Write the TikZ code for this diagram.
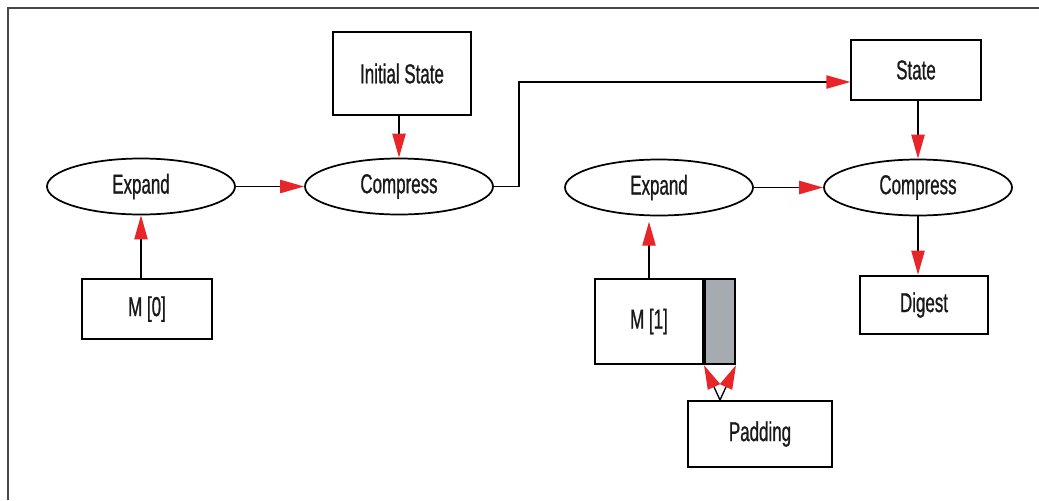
\documentclass[tikz,border=0pt]{standalone}
\usepackage{fontspec}
\setmainfont{Liberation Sans}[FakeStretch=0.62, FakeBold=0.8]
\usetikzlibrary{arrows.meta,shapes.geometric,positioning}
\definecolor{arrowred}{RGB}{232,38,42}
\definecolor{framegray}{RGB}{70,70,70}
\definecolor{padgray}{RGB}{166,171,178}
\begin{document}
\begin{tikzpicture}[x=0.75pt, y=-0.75pt,
  every node/.style={font=\fontsize{20.5}{24}\selectfont, text=black!90},
  oval/.style={draw, ellipse, line width=1.3pt, minimum width=141pt, minimum height=42pt, inner sep=0pt},
  box/.style={draw, rectangle, line width=1.5pt, inner sep=0pt},
  arr/.style={line width=1pt, -{Triangle[length=18pt, width=10pt, color=arrowred]}}]
  \useasboundingbox (0, 0) rectangle (1039, 500);
  \draw[framegray, line width=1.5pt] (8, 500) -- (8, 8) -- (1039, 8);
  \node[oval] (exp1) at (141, 186.5) {Expand};
  \node[oval] (cmp1) at (399, 186.5) {Compress};
  \node[box, minimum width=103.5pt, minimum height=62pt] (init) at (402, 73.5) {Initial State};
  \node[box, minimum width=97pt, minimum height=45pt] (m0) at (147, 309) {M [0]};
  \node[box, minimum width=97pt, minimum height=45pt] (state) at (916, 70) {State};
  \node[oval] (exp2) at (659, 187.5) {Expand};
  \node[oval] (cmp2) at (918, 187.5) {Compress};
  \node[box, minimum width=81pt, minimum height=64pt] (m1) at (649, 321.5) {M [1]};
  \node[box, fill=padgray, minimum width=22.5pt, minimum height=64pt, right=0pt of m1] (padbar) {};
  \node[box, minimum width=96pt, minimum height=44pt] (digest) at (924, 305) {Digest};
  \node[box, minimum width=108pt, minimum height=49.5pt] (padding) at (760, 434) {Padding};
  \draw[arr] (m0.north -| exp1) -- (exp1.south);
  \draw[arr] (exp1.east) -- (cmp1.west);
  \draw[arr] (init.south -| cmp1) -- (cmp1.north);
  \draw[arr] (cmp1.east) -- ++(25, 0) |- ([yshift=-9pt]state.west);
  \draw[arr] (state.south -| cmp2) -- (cmp2.north);
  \draw[arr] (m1.north) -- ([yshift=-4pt]m1.north |- exp2.south);
  \draw[arr] (exp2.east) -- (cmp2.west);
  \draw[arr] (cmp2.south) -- (digest.north -| cmp2);
  \draw[arr] (padding.north -| padbar) -- (padbar.south west);
  \draw[arr] (padding.north -| padbar) -- (padbar.south east);
\end{tikzpicture}
\end{document}
